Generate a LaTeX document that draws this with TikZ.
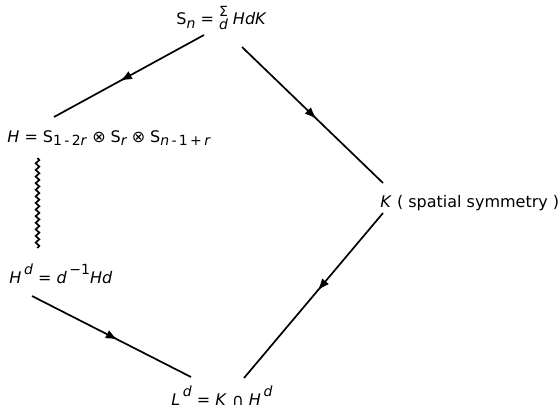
\documentclass[tikz,border=0pt]{standalone}
\usepackage{fontspec}
\setmainfont{DejaVu Sans}
\usetikzlibrary{decorations.markings,decorations.pathmorphing,arrows.meta,calc}
\newcommand\mysub[1]{\raisebox{-0.45ex}{\scriptsize #1}}
\newcommand\mysup[1]{\raisebox{0.95ex}{\scriptsize #1}}
\newcommand\sumd{\raisebox{-2.2pt}{\shortstack{\scriptsize Σ\\[-1.8pt]\scriptsize\itshape d}}}
\begin{document}
\begin{tikzpicture}[x=0.5pt,y=-0.5pt,
  lbl/.style={inner sep=0pt, anchor=base west, font=\fontsize{8}{9.6}\selectfont},
  conn/.style={line width=0.85pt},
  midarrow/.style={conn, postaction={decorate}, decoration={markings, mark=at position #1 with {\arrow{Latex[length=6pt,width=4.5pt]}}}},
  wavy/.style={conn, decorate, decoration={snake, segment length=3.3pt, amplitude=0.9pt}}]
\useasboundingbox (0,0) rectangle (560,407);
\node[lbl] (sn) at (176,25) {S\mysub{\itshape n} = \sumd\ \textit{HdK}};
\node[lbl] (h) at (7,142) {\textit{H} = S\mysub{1\,-\,2\textit{r}} {\footnotesize⊗} S\mysub{\itshape r} {\footnotesize⊗} S\mysub{\textit{n}\,-\,1\,+\,\textit{r}}};
\node[lbl] (k) at (380,207) {\textit{K} ( spatial symmetry )};
\node[lbl] (hd) at (9,283) {\textit{H}\,\mysup{\itshape d} = \textit{d}\,\mysup{−1}\textit{Hd}};
\node[lbl] (ld) at (171,405) {\textit{L}\,\mysup{\itshape d} = \textit{K} ∩ \textit{H}\,\mysup{\itshape d}};
\draw[midarrow=0.56] ($(sn.base west)+(28,10)$) -- ($(h.base west)+(47,-25)$);
\draw[midarrow=0.53] ($(sn.base west)+(66,22)$) -- ($(k.base west)+(3,-24)$);
\draw[wavy] ($(h.base west)+(30.5,16)$) -- ($(hd.base west)+(28.5,-35)$);
\draw[midarrow=0.54] ($(hd.base west)+(23,13)$) -- ($(ld.base west)+(20,-28)$);
\draw[midarrow=0.47] ($(k.base west)+(3,6)$) -- ($(ld.base west)+(73,-27)$);
\end{tikzpicture}
\end{document}
